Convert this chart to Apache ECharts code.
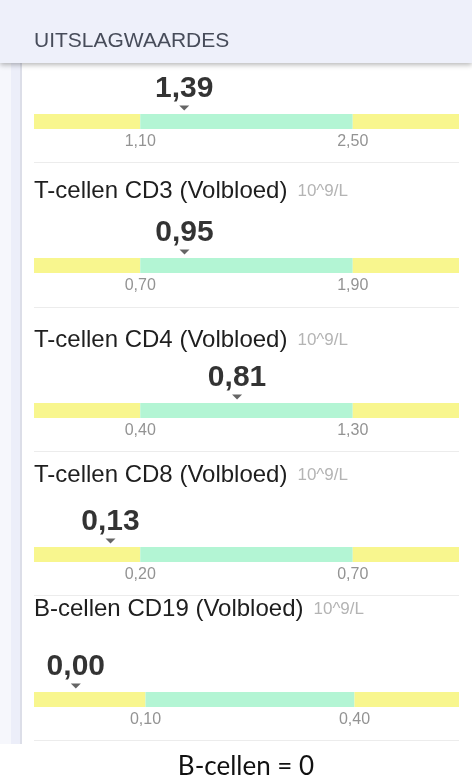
<!DOCTYPE html>
<html>
<head>
<meta charset="utf-8">
<script src="https://cdn.jsdelivr.net/npm/echarts@6/dist/echarts.min.js"></script>
<style>
  html, body { margin: 0; padding: 0; background: #fff; }
  #chart-container { width: 472px; height: 779px; }
</style>
</head>
<body>
<div id="chart-container"></div>
<script>
// lab results, one entry per test (first row is scrolled half out of view)
var tests = ['', 'T-cellen CD3 (Volbloed)', 'T-cellen CD4 (Volbloed)', 'T-cellen CD8 (Volbloed)', 'B-cellen CD19 (Volbloed)'];
var units = ['', '10^9/L', '10^9/L', '10^9/L', '10^9/L'];
var results = [1.39, 0.95, 0.81, 0.13, 0.00];
var refLow = [1.10, 0.70, 0.40, 0.20, 0.10];
var refHigh = [2.50, 1.90, 1.30, 0.70, 0.40];
var scaleMin = [0.40, 0.10, -0.05, -0.05, -0.06];
var scaleMax = [3.20, 2.50, 1.75, 0.95, 0.55];

// layout (pixels)
var barTop = [114, 258, 403, 547, 692];
var titleY = [0, 191, 340, 475, 609];
var sepY = [162, 307, 451, 595, 740];

var YELLOW = '#f8f68e';
var GREEN = '#b3f5d4';
var FONT = 'Liberation Sans';

function fmt(v) {
  return v.toFixed(2).replace('.', ',');
}

var dom = document.getElementById('chart-container');
var myChart = echarts.init(dom, null, { renderer: 'canvas' });

var grids = [], xAxes = [], yAxes = [], series = [];
var graphics = [];

// page background / left strip
graphics.push({ type: 'rect', z: 0, shape: { x: 0, y: 0, width: 11, height: 744 }, style: { fill: '#f6f7fc' } });
graphics.push({ type: 'rect', z: 0, shape: { x: 11, y: 0, width: 9, height: 744 }, style: { fill: '#eceef9' } });
graphics.push({ type: 'rect', z: 0, shape: { x: 20, y: 0, width: 2, height: 744 }, style: { fill: '#dcdee8' } });

tests.forEach(function (name, i) {
  grids.push({ left: 34, width: 425, top: barTop[i], height: 15 });
  xAxes.push({
    type: 'value',
    gridIndex: i,
    min: scaleMin[i],
    max: scaleMax[i],
    axisLine: { show: false },
    axisTick: { show: false },
    splitLine: { show: false },
    axisLabel: {
      customValues: [refLow[i], refHigh[i]],
      formatter: fmt,
      color: '#939393',
      fontSize: 16,
      fontFamily: FONT,
      margin: 5
    }
  });
  yAxes.push({ type: 'value', gridIndex: i, min: 0, max: 1, show: false });
  series.push({
    type: 'scatter',
    xAxisIndex: i,
    yAxisIndex: i,
    clip: false,
    silent: true,
    data: [[results[i], 1]],
    symbol: 'triangle',
    symbolRotate: 180,
    symbolSize: [10, 5],
    symbolOffset: [0, -6],
    itemStyle: { color: '#3f3f3f' },
    label: {
      show: true,
      position: 'top',
      distance: 2,
      formatter: function (p) { return fmt(p.value[0]); },
      fontSize: 30,
      fontWeight: 'bold',
      fontFamily: FONT,
      color: '#000'
    },
    markArea: {
      silent: true,
      data: [
        [{ xAxis: scaleMin[i], itemStyle: { color: YELLOW } }, { xAxis: refLow[i] }],
        [{ xAxis: refLow[i], itemStyle: { color: GREEN } }, { xAxis: refHigh[i] }],
        [{ xAxis: refHigh[i], itemStyle: { color: YELLOW } }, { xAxis: scaleMax[i] }]
      ]
    }
  });

  if (name) {
    graphics.push({
      type: 'text',
      x: 34,
      y: titleY[i],
      style: {
        text: '{a|' + name + '}{b|' + units[i] + '}',
        verticalAlign: 'middle',
        rich: {
          a: { fontSize: 24, fontFamily: FONT, fill: '#1e1e1e' },
          b: { fontSize: 17, fontFamily: FONT, fill: '#b4b4b4', padding: [0, 0, 0, 10] }
        }
      }
    });
  }
  graphics.push({
    type: 'rect',
    shape: { x: 34, y: sepY[i], width: 425, height: 1 },
    style: { fill: '#ececec' }
  });
});

// header bar
graphics.push({
  type: 'rect', z: 100,
  shape: { x: 0, y: 0, width: 472, height: 63 },
  style: { fill: '#eef0fa', shadowBlur: 5, shadowOffsetY: 2, shadowColor: 'rgba(0,0,0,0.28)' }
});
graphics.push({
  type: 'text', z: 101, x: 34, y: 41,
  style: { text: 'UITSLAGWAARDES', fontSize: 21, fontFamily: FONT, fill: '#474c5a', verticalAlign: 'middle' }
});

// caption under the screenshot
graphics.push({ type: 'rect', shape: { x: 0, y: 744, width: 472, height: 35 }, style: { fill: '#fff' } });
graphics.push({
  type: 'text', x: 246, y: 767,
  style: { text: 'B-cellen = 0', fontSize: 26, fontFamily: 'Lato', fill: '#111', align: 'center', verticalAlign: 'middle' }
});

var option = {
  animation: false,
  backgroundColor: '#fff',
  grid: grids,
  xAxis: xAxes,
  yAxis: yAxes,
  series: series,
  graphic: graphics
};

myChart.setOption(option);
window.addEventListener('resize', myChart.resize);
</script>
</body>
</html>
